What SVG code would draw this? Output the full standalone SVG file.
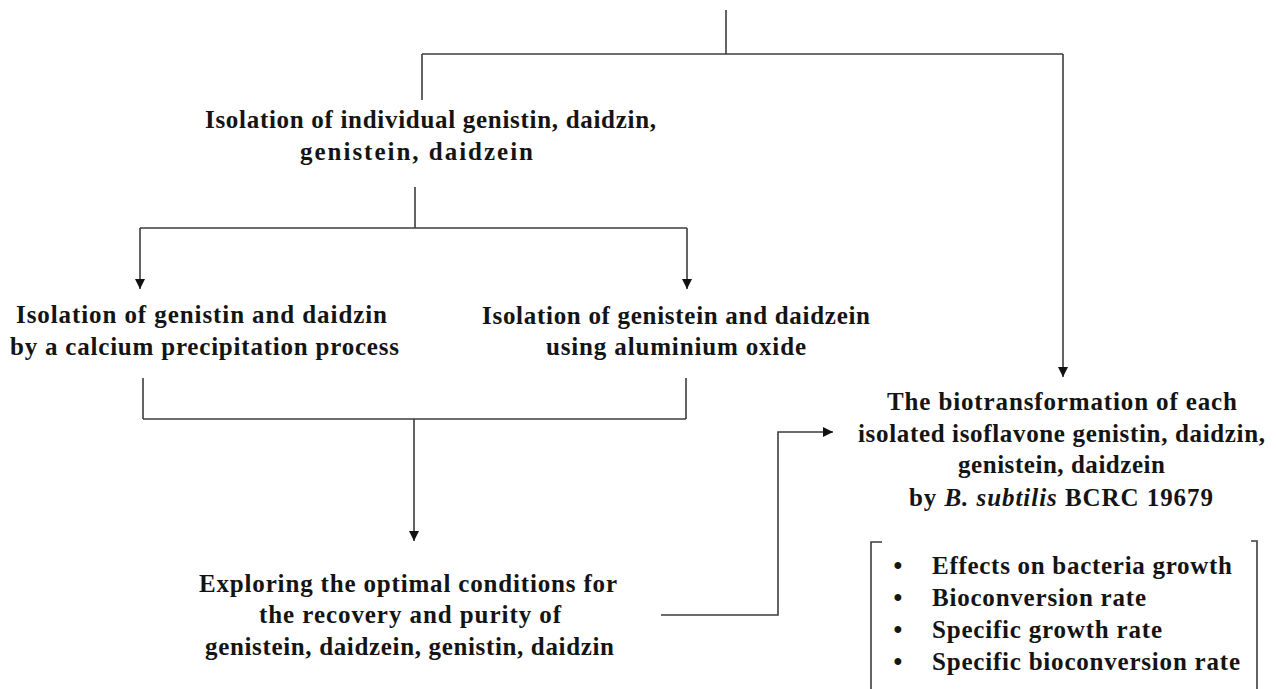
<svg xmlns="http://www.w3.org/2000/svg" width="1276" height="689" viewBox="0 0 1276 689">
<style>
.t{font-family:"Liberation Serif","Times New Roman",Times,serif;font-weight:bold;font-size:25px;fill:#141414}
.c{fill:none;stroke:#3c3c3c;stroke-width:1.6}
</style>
<defs>
<marker id="ah" markerUnits="userSpaceOnUse" markerWidth="10" markerHeight="10" refX="10" refY="5" orient="auto">
<path d="M0,0 L10,5 L0,10 z" fill="#111"/>
</marker>
</defs>
<rect width="1276" height="689" fill="#fff"/>
<g id="connectors">
<path class="c" d="M726,10 V54"/>
<path class="c" d="M422,54 H1063"/>
<path class="c" d="M422,54 V100"/>
<path class="c" d="M1063,54 V377" marker-end="url(#ah)"/>
<path class="c" d="M415,187 V228"/>
<path class="c" d="M140,228 H687"/>
<path class="c" d="M140,228 V289" marker-end="url(#ah)"/>
<path class="c" d="M687,228 V289" marker-end="url(#ah)"/>
<path class="c" d="M143,378 V419"/>
<path class="c" d="M686,378 V419"/>
<path class="c" d="M143,419 H686"/>
<path class="c" d="M414,419 V541" marker-end="url(#ah)"/>
<path class="c" d="M661,615 H778 V432 H833" marker-end="url(#ah)"/>
</g>
<g id="node-individual">
<text class="t" x="205" y="128" textLength="451" lengthAdjust="spacing">Isolation of individual genistin, daidzin,</text>
<text class="t" x="300" y="160" textLength="233" lengthAdjust="spacing">genistein, daidzein</text>
</g>
<g id="node-calcium">
<text class="t" x="16" y="323" textLength="371" lengthAdjust="spacing">Isolation of genistin and daidzin</text>
<text class="t" x="10" y="355" textLength="389" lengthAdjust="spacing">by a calcium precipitation process</text>
</g>
<g id="node-alumina">
<text class="t" x="482" y="324" textLength="388" lengthAdjust="spacing">Isolation of genistein and daidzein</text>
<text class="t" x="546" y="355" textLength="260" lengthAdjust="spacing">using aluminium oxide</text>
</g>
<g id="node-exploring">
<text class="t" x="199" y="592" textLength="418" lengthAdjust="spacing">Exploring the optimal conditions for</text>
<text class="t" x="259" y="623" textLength="302" lengthAdjust="spacing">the recovery and purity of</text>
<text class="t" x="205" y="655" textLength="409" lengthAdjust="spacing">genistein, daidzein, genistin, daidzin</text>
</g>
<g id="node-biotransformation">
<text class="t" x="887" y="410" textLength="350" lengthAdjust="spacing">The biotransformation of each</text>
<text class="t" x="858" y="442" textLength="407" lengthAdjust="spacing">isolated isoflavone genistin, daidzin,</text>
<text class="t" x="958" y="473" textLength="207" lengthAdjust="spacing">genistein, daidzein</text>
<text class="t" x="909" y="506" textLength="304" lengthAdjust="spacing">by <tspan font-style="italic">B. subtilis</tspan> BCRC 19679</text>
</g>
<g id="node-effects">
<path class="c" d="M882,542 H871 V689"/>
<path class="c" d="M1251,541 H1257 V689"/>
<text class="t" x="898" y="574" text-anchor="middle">•</text>
<text class="t" x="898" y="606" text-anchor="middle">•</text>
<text class="t" x="898" y="638" text-anchor="middle">•</text>
<text class="t" x="898" y="670" text-anchor="middle">•</text>
<text class="t" x="932" y="574" textLength="300" lengthAdjust="spacing">Effects on bacteria growth</text>
<text class="t" x="932" y="606" textLength="214" lengthAdjust="spacing">Bioconversion rate</text>
<text class="t" x="932" y="638" textLength="230" lengthAdjust="spacing">Specific growth rate</text>
<text class="t" x="932" y="670" textLength="308" lengthAdjust="spacing">Specific bioconversion rate</text>
</g>
</svg>
